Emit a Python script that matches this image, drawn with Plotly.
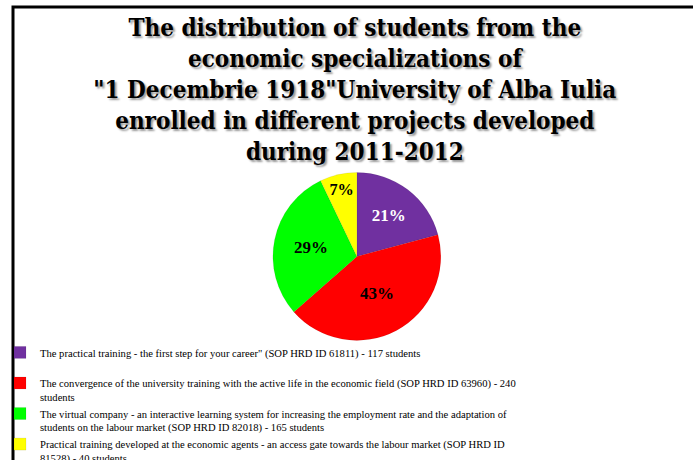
import plotly.graph_objects as go

projects = [
    'The practical training - the first step for your career" (SOP HRD ID 61811) - 117 students<br> ',
    "The convergence of the university training with the active life in the economic field (SOP HRD ID 63960) - 240<br>students",
    "The virtual company - an interactive learning system for increasing the employment rate and the adaptation of<br>students on the labour market (SOP HRD ID 82018) - 165 students",
    "Practical training developed at the economic agents - an access gate towards the labour market (SOP HRD ID<br>81528) - 40 students",
]
students = [117, 240, 165, 40]
colors = ["#7030A0", "#FF0000", "#00FF00", "#FFFF00"]
text_colors = ["white", "black", "black", "black"]

title_text = ("The distribution of students from the<br>economic specializations of<br>"
              "\"1 Decembrie 1918\"University of Alba Iulia<br>enrolled in different projects developed<br>"
              "during 2011-2012")

fig = go.Figure(go.Pie(
    labels=projects,
    values=students,
    sort=False,
    direction="clockwise",
    rotation=0,
    marker=dict(colors=colors, line=dict(color="rgba(0,0,0,0.15)", width=0.5)),
    textinfo="percent",
    texttemplate="%{percent:.0%}",
    textposition="inside",
    insidetextorientation="horizontal",
    textfont=dict(family="Liberation Serif", size=17, color=text_colors, weight="bold"),
    domain=dict(x=[0.33, 0.70], y=[0.26, 0.625]),
    hoverinfo="label+value+percent",
))

fig.update_layout(
    width=693, height=460,
    margin=dict(l=0, r=0, t=0, b=0, autoexpand=False),
    paper_bgcolor="white",
    plot_bgcolor="white",
    title=dict(
        text=title_text,
        x=0.512, xanchor="center",
        y=0.9226, yanchor="top",
        font=dict(family="DejaVu Serif Condensed", size=24, color="black", weight="bold",
                  shadow="2px 2px 2px #999999"),
    ),
    legend=dict(
        x=0.0, xanchor="left",
        y=0.263, yanchor="top",
        valign="top",
        font=dict(family="Liberation Serif", size=10.6, color="black"),
        tracegroupgap=0,
        itemclick=False,
        bgcolor="rgba(0,0,0,0)",
    ),
    shapes=[dict(type="rect", xref="paper", yref="paper",
                 x0=13/693, x1=1.3, y0=-0.3, y1=1 - 7/460,
                 line=dict(color="black", width=3), fillcolor="rgba(0,0,0,0)")],
    showlegend=True,
)

fig.write_html("out.html", config={"displayModeBar": False},
               post_script="document.body.style.margin='0';")
